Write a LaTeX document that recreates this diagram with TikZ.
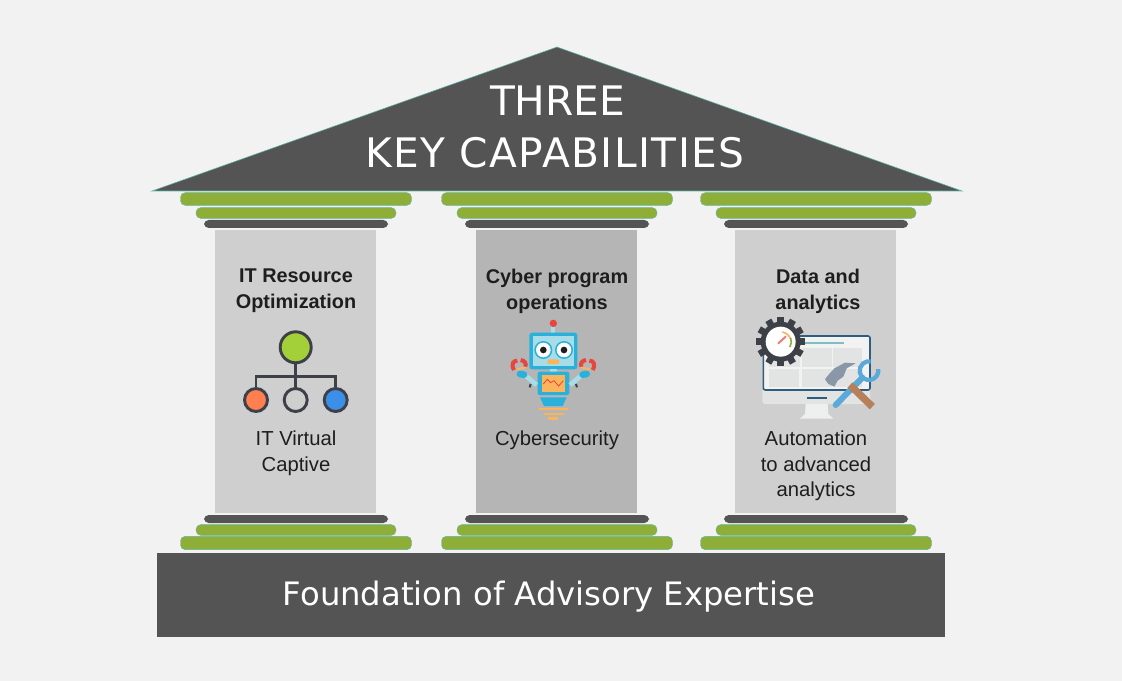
\documentclass[tikz,border=0pt]{standalone}
\usepackage{fontspec}
\setmainfont{Liberation Sans}
\newfontfamily\titlefont{DejaVu Sans}
\definecolor{slate}{HTML}{545454}
\definecolor{leaf}{HTML}{8FAE38}
\definecolor{rim}{HTML}{5FB8A8}
\definecolor{page}{HTML}{F2F2F2}
\definecolor{pale}{HTML}{CFCFCF}
\definecolor{mid}{HTML}{B5B5B5}
\definecolor{ink}{HTML}{1E1E1E}
\definecolor{wire}{HTML}{3E4048}
\definecolor{sprout}{HTML}{A3D039}
\definecolor{coral}{HTML}{FF7F50}
\definecolor{azure}{HTML}{3B8FE8}
\definecolor{sky}{HTML}{29B1DC}
\definecolor{ice}{HTML}{A8DDE8}
\definecolor{amber}{HTML}{F9B45C}
\definecolor{alarm}{HTML}{E8453C}
\definecolor{navy}{HTML}{2F5D80}
\definecolor{panel}{HTML}{E2E4E4}
\definecolor{steel}{HTML}{8A97A6}
\definecolor{spanner}{HTML}{5AA9D8}
\definecolor{handle}{HTML}{B5805A}
\tikzset{
  bar/.style={rectangle,inner sep=0pt,rounded corners=3.5pt,minimum width=#1*0.75pt},
  greenbar/.style={bar=#1,fill=leaf,draw=rim,line width=0.3pt},
  darkbar/.style={bar=#1,fill=slate,minimum height=6pt},
  shaft/.style={rectangle,inner sep=0pt,minimum width=120.75pt,minimum height=212.25pt},
  headtext/.style={align=center,text=ink,font=\fontsize{14.9}{19.5}\selectfont\bfseries},
  subtext/.style={align=center,text=ink,font=\fontsize{15.2}{19.2}\selectfont},
  orgdot/.style={circle,draw=wire,line width=2.2pt,inner sep=0pt,minimum size=#1*0.75pt},
}
\begin{document}
\begin{tikzpicture}[x=0.75pt,y=-0.75pt]
  \useasboundingbox (0,0) rectangle (1122,681);
  \fill[page] (0,0) rectangle (1122,681);

  % roof and floor
  \node[rectangle,fill=slate,inner sep=0pt,minimum width=591pt,minimum height=63pt] (base) at (551,595) {};
  \node[text=white,font=\titlefont\fontsize{24.2}{30}\selectfont] (baselabel) at (549,597) {Foundation of Advisory Expertise};
  \draw[fill=slate,draw=rim,line width=0.4pt] (152,191) -- (557,47) -- (962,191) -- cycle;
  \node[text=white,align=center,font=\titlefont\fontsize{30.5}{39}\selectfont] (title) at (555,127) {\hspace*{4pt}THREE\\\addfontfeature{LetterSpace=3.6}KEY CAPABILITIES};

  % the three columns
  \foreach \pil/\cx/\shade in {one/296/pale,two/557/mid,three/816/pale}{
    \node[shaft,fill=\shade] (\pil) at (\cx-0.8,371.5) {};
    \node[greenbar=231,minimum height=9.5pt] (\pil top a) at (\cx,199) {};
    \node[greenbar=200,minimum height=8pt] (\pil top b) at (\cx,213) {};
    \node[darkbar=184] (\pil top c) at (\cx,224) {};
    \node[darkbar=184] (\pil foot c) at (\cx,519) {};
    \node[greenbar=200,minimum height=8pt] (\pil foot b) at (\cx,530) {};
    \node[greenbar=231,minimum height=10pt] (\pil foot a) at (\cx,543) {};
  }

  \node[headtext] (onehead) at (296,291) {IT Resource\\Optimization};
  \node[headtext] (twohead) at (557,291) {Cyber program\\operations};
  \node[headtext] (threehead) at (818,291) {Data and\\analytics};
  \node[subtext] (onesub) at (296,453) {IT Virtual\\Captive};
  \node[subtext] (twosub) at (557,440) {Cybersecurity};
  \node[subtext] (threesub) at (816,466) {Automation\\to advanced\\analytics};

  % org chart icon
  \node[orgdot=31,fill=sprout] (boss) at (295.7,347.3) {};
  \node[orgdot=23,fill=coral] (left) at (256,400) {};
  \node[orgdot=23] (centre) at (295.7,400) {};
  \node[orgdot=23,fill=azure] (right) at (335.7,400) {};
  \coordinate (hub) at (295.7,376.7);
  \draw[wire,line width=2.2pt] (boss) -- (centre);
  \draw[wire,line width=2.2pt] (left) |- (hub) -| (right);

  % robot icon
  \begin{scope}[shift={(490,310)},x=0.25pt,y=-0.25pt]
    \fill[ice] (184,50) rectangle (196,68);
    \fill[alarm] (190,40) circle (11);
    \fill[sky,rounded corners=2pt] (118,68) rectangle (262,178);
    \fill[ice] (128,78) rectangle (252,168);
    \foreach \ex in {160,222}{
      \fill[sky] (\ex,120) circle (27);
      \fill[white] (\ex,120) circle (22);
      \fill[ink] (\ex,120) circle (10);
    }
    \fill[amber,rounded corners=1.5pt] (172,148) rectangle (208,162);
    \fill[ice] (180,178) rectangle (200,186);
    \fill[sky,rounded corners=1.5pt] (143,185) rectangle (238,255);
    \fill[amber] (155,195) rectangle (226,245);
    \draw[alarm,line width=0.6pt] (160,222) -- (172,208) -- (182,218) -- (192,212) -- (206,228) -- (220,212);
    \fill[sky] (150,262) -- (230,262) -- (218,288) -- (162,288) -- cycle;
    \foreach \fy/\fa/\fb in {297/148/234,312/162/222,326/175/205}
      \draw[amber,line width=2pt] (\fa,\fy) -- (\fb,\fy);
    \foreach \mir/\off in {1/0,-1/380}{
      \begin{scope}[xshift=\off*0.25pt,x=\mir*0.25pt]
        \draw[ice,line width=3.5pt] (140,225) -- (108,198);
        \draw[wire,line width=1.5pt] (119,232) -- (122,222);
        \draw[sky,line width=5pt,line cap=round] (90,192) -- (102,194);
        \draw[amber,line width=1.5pt] (80,178) -- (108,172);
        \draw[alarm,line width=3pt] (72,180) .. controls (62,162) and (70,152) .. (82,152);
        \draw[alarm,line width=3pt] (106,170) .. controls (110,160) and (104,152) .. (92,150);
      \end{scope}
    }
  \end{scope}

  % monitor icon
  \begin{scope}[shift={(745,310)},x=0.25pt,y=-0.25pt]
    \fill[panel,rounded corners=2pt] (52,235) rectangle (375,282);
    \fill[panel!60!white] (182,282) -- (248,282) -- (250,312) -- (265,326) -- (165,326) -- (180,312) -- cycle;
    \fill[navy] (185,260) rectangle (245,266);
    \draw[navy,line width=1.2pt,fill=page,rounded corners=1.5pt] (55,78) rectangle (375,240);
    \fill[teal!50!white] (180,96) rectangle (298,102);
    \foreach \ax/\ay/\bx/\by in {72/115/165/172,170/115/262/172,265/115/352/172,72/178/162/232,170/178/262/232,265/178/352/232}
      \fill[panel] (\ax,\ay) rectangle (\bx,\by);
    \foreach \a in {0,30,...,330}
      \draw[wire,line width=5pt] (107,95) ++(\a:50) -- ++(\a:24);
    \fill[wire] (107,95) circle (60);
    \fill[white] (107,95) circle (45);
    \draw[amber,line width=1.2pt] (112,66) arc (-80:-20:32);
    \draw[leaf,line width=1.2pt] (137,84) arc (-20:30:32);
    \draw[alarm!70!white,line width=1.5pt,line cap=round] (100,100) -- (122,80);
    \fill[steel] (240,208) -- (250,195) -- (268,175) -- (300,158) -- (332,160) -- (305,175) -- (295,200) -- (278,212) -- (268,230) -- (250,222) -- cycle;
    \draw[spanner,line width=4.5pt,line cap=round] (272,285) -- (352,203);
    \draw[spanner,line width=3.2pt] (399.6,177.1) arc (-10:280:28);
    \draw[handle,line width=5.5pt] (315,225) -- (382,290);
  \end{scope}
\end{tikzpicture}
\end{document}
